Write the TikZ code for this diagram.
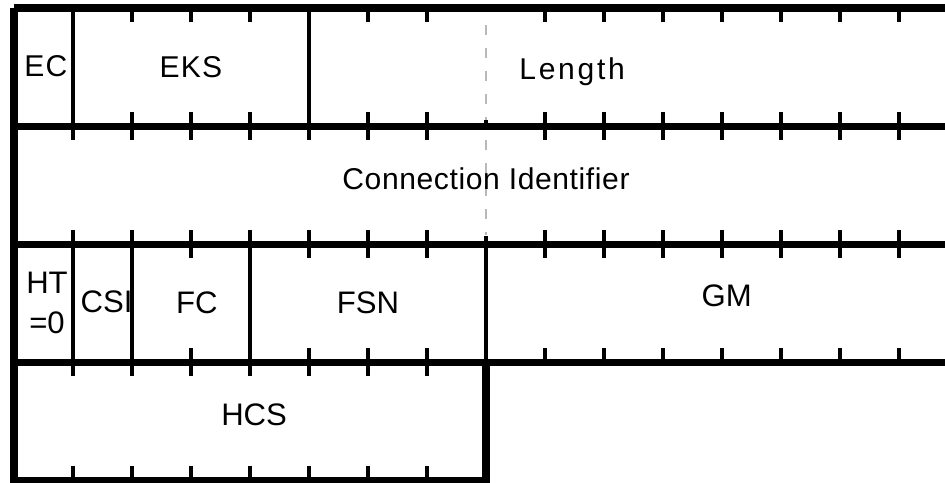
\documentclass[tikz,border=0pt]{standalone}
\usepackage{fontspec}
\setsansfont{Liberation Sans}
\newfontfamily\spacedsans{Liberation Sans}[LetterSpace=4]
\newfontfamily\narrowsans{Liberation Sans}[LetterSpace=2]
\newfontfamily\widesans{Liberation Sans}[LetterSpace=9]
\tikzset{every picture/.style={/utils/exec={\sffamily}}}

\begin{document}
\begin{tikzpicture}[
		rowline/.style={line width=3.4pt},
		sep/.style={line width=2pt},
		tick/.style={line width=1.7pt},
		bitgrid/.style={gray!55, line width=1pt, dash pattern=on 0.17cm off 0.22cm},
		toprow/.style={font=\spacedsans\fontsize{14.5}{16}\selectfont, inner sep=0pt},
		lowrow/.style={font=\fontsize{15}{19}\selectfont, inner sep=0pt, align=center}
	]
		\useasboundingbox (-0.237, 0.136) rectangle (15.78, -8.034);
		\clip (-0.237, 0.136) rectangle (15.78, -8.034);

		\draw[bitgrid] (8, -0.29) -- (8, -3.85);

		\foreach \rtop/\bitlist in {0/{2,3,4,6,7,9,10,11,12,13,14,15},
				-2/{1,2,3,4,5,6,7,9,10,11,12,13,14,15},
				-4/{3,5,6,7,9,10,11,12,13,14,15},
				-6/{1,2,3,4,5,6,7}}
			\foreach \b in \bitlist {
				\draw[tick] (\b, \rtop) -- (\b, \rtop-0.24);
				\draw[tick] (\b, \rtop-2) -- (\b, \rtop-1.76);
			}
		\draw[tick] (8, -2) -- (8, -1.9);
		\draw[tick] (8, -4) -- (8, -3.86);

		\draw[sep] (1, 0) -- (1, -2);
		\draw[sep] (5, 0) -- (5, -2);
		\draw[sep] (1, -4) -- (1, -6);
		\draw[sep] (2, -4) -- (2, -6);
		\draw[sep] (4, -4) -- (4, -6);
		\draw[sep] (8, -4) -- (8, -6);

		\draw[rowline] (0, 0) -- (16, 0);
		\draw[rowline] (0, -2) -- (16, -2);
		\draw[rowline] (0, -4) -- (16, -4);
		\draw[rowline] (0, -6) -- (16, -6);
		\draw[rowline] (0, 0) -- (0, -8) -- (8, -8) -- (8, -6);

		\node[toprow] (ec) at (0.54, -0.98) {EC};
		\node[toprow] (eks) at (3, -1) {EKS};
		\node[toprow, font=\widesans\fontsize{14.5}{16}\selectfont] (len) at (9.46, -1.08) {Length};
		\node[toprow, font=\narrowsans\fontsize{14.5}{16}\selectfont] (cid) at (8, -2.9) {Connection Identifier};

		\node[lowrow] (ht) at (0.56, -5) {HT\\=0};
		\node[lowrow] (csi) at (1.57, -4.98) {CSI};
		\node[lowrow] (fc) at (3.1, -4.99) {FC};
		\node[lowrow] (fsn) at (6, -4.99) {FSN};
		\node[lowrow] (gm) at (12.08, -4.88) {GM};
		\node[lowrow] (hcs) at (4.07, -6.89) {HCS};
	\end{tikzpicture}
\end{document}
